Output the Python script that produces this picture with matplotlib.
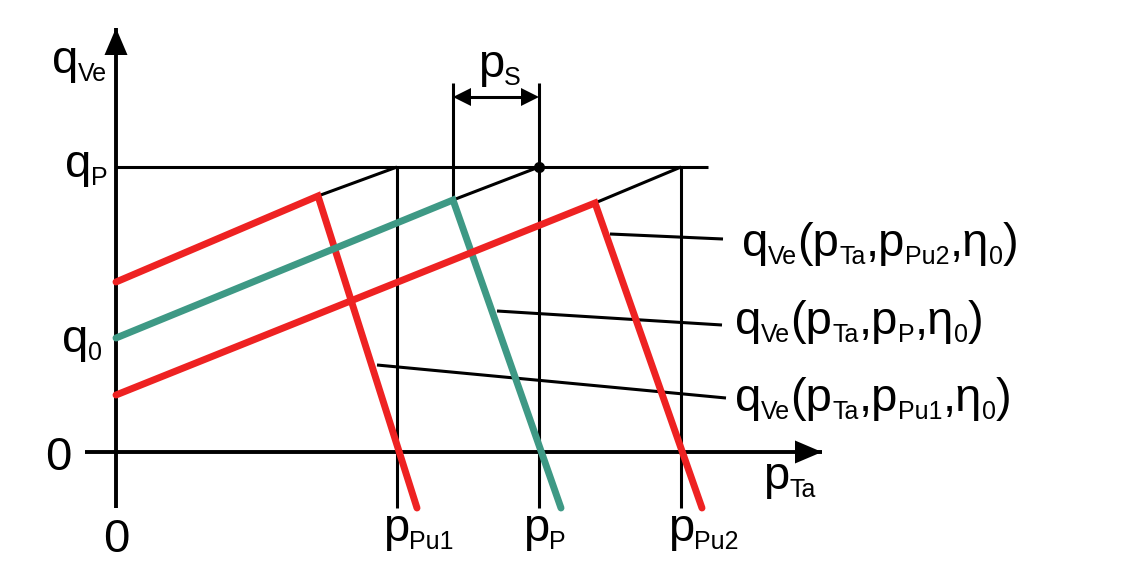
import matplotlib
matplotlib.use("Agg")
import matplotlib.pyplot as plt

plt.rcParams["font.family"] = ["Liberation Sans", "DejaVu Sans"]

# diagram units: origin at the axis crossing, 1 unit ~ 100 px
p_pu1, p_p, p_pu2 = 2.81, 4.23, 5.65
p_s = p_p - 3.37
q_p = 2.85
q_0 = 1.14

# each characteristic: start on q axis, corner, end below p axis
curve_names = ["Pu1", "P", "Pu2"]
curve_colors = ["#ee2222", "#3e9985", "#ee2222"]
curve_x = [[0.0, 2.02, 3.01], [0.0, 3.37, 4.45], [0.0, 4.79, 5.86]]
curve_y = [[1.70, 2.56, -0.56], [q_0, 2.52, -0.56], [0.57, 2.49, -0.56]]
curve_top = [p_pu1, p_p, p_pu2]

# leader lines from curve to its label
leader_x = [[4.94, 6.07], [3.81, 6.06], [2.61, 6.10]]
leader_y = [[2.18, 2.13], [1.41, 1.27], [0.87, 0.54]]

X_AX = (-0.31, 7.06)
Y_AX = (-0.56, 4.24)
BOTTOM = -0.56
PS_TOP = 3.69
PS_Y = 3.55

MAIN, SUB, DROP = 34, 18, 0.08

fig = plt.figure(figsize=(11.33, 5.66), dpi=100)
ax = fig.add_axes([0, 0, 1, 1])
ax.set_xlim(-1.16, 10.17)
ax.set_ylim(-1.14, 4.52)
ax.axis("off")

k = dict(color="black", lw=2.2, solid_capstyle="butt")

# axes with filled arrow heads
ax.plot(X_AX, [0, 0], color="black", lw=2.8, solid_capstyle="butt")
ax.plot([0, 0], Y_AX, color="black", lw=2.8, solid_capstyle="butt")
hl, hw = 0.27, 0.115
ax.fill([X_AX[1], X_AX[1] - hl, X_AX[1] - hl], [0, hw, -hw], color="black", lw=0)
ax.fill([0, hw, -hw], [Y_AX[1], Y_AX[1] - hl, Y_AX[1] - hl], color="black", lw=0)

# q_P level and vertical guides
ax.plot([0, 5.92], [q_p, q_p], **k)
for p in (p_pu1, p_pu2):
    ax.plot([p, p], [BOTTOM, q_p], **k)
ax.plot([p_p, p_p], [BOTTOM, PS_TOP], **k)
ax.plot([p_p - p_s, p_p - p_s], [curve_y[1][1], PS_TOP], **k)
ax.plot([p_p], [q_p], "o", color="black", ms=7)

# p_S dimension arrow
ax.plot([p_p - p_s + 0.1, p_p - 0.1], [PS_Y, PS_Y], **k)
ah, aw = 0.18, 0.09
x0, x1 = p_p - p_s, p_p
ax.fill([x0, x0 + ah, x0 + ah], [PS_Y, PS_Y + aw, PS_Y - aw], color="black", lw=0)
ax.fill([x1, x1 - ah, x1 - ah], [PS_Y, PS_Y + aw, PS_Y - aw], color="black", lw=0)

# black continuation of the rising branch up to q_P
for xs, ys, top in zip(curve_x, curve_y, curve_top):
    ax.plot([xs[1], top], [ys[1], q_p], **k)

for xs, ys in zip(leader_x, leader_y):
    ax.plot(xs, ys, **k)

for xs, ys, c in zip(curve_x, curve_y, curve_colors):
    ax.plot(xs, ys, color=c, lw=5, solid_capstyle="round",
            solid_joinstyle="miter", zorder=3)


def rich(x, y, parts, ha="left"):
    r = fig.canvas.get_renderer()
    inv = ax.transData.inverted()
    for s, sub in parts:
        t = ax.text(x, y - (DROP if sub else 0), s, fontsize=SUB if sub else MAIN,
                    va="baseline", ha="left")
        bb = t.get_window_extent(r)
        x = inv.transform((bb.x1, bb.y0))[0]


rich(-0.64, 3.79, [("q", 0), ("Ve", 1)])
rich(-0.51, 2.75, [("q", 0), ("P", 1)])
rich(-0.54, 1.00, [("q", 0), ("0", 1)])
rich(-0.71, -0.18, [("0", 0)])
ax.text(0, -1.00, "0", fontsize=MAIN, va="baseline", ha="center")
rich(2.67, -0.89, [("p", 0), ("Pu1", 1)])
rich(4.07, -0.89, [("p", 0), ("P", 1)])
rich(5.52, -0.89, [("p", 0), ("Pu2", 1)])
rich(6.47, -0.37, [("p", 0), ("Ta", 1)])
rich(3.62, 3.75, [("p", 0), ("S", 1)])

label_pos = [(6.26, 1.96), (6.19, 1.18), (6.19, 0.41)]
label_sub = ["Pu2", "P", "Pu1"]
for (lx, ly), s in zip(label_pos, label_sub):
    rich(lx, ly, [("q", 0), ("Ve", 1), ("(p", 0), ("Ta", 1), (",p", 0),
                  (s, 1), (",\u03b7", 0), ("0", 1), (")", 0)])

fig.savefig("out.png", dpi=100)
